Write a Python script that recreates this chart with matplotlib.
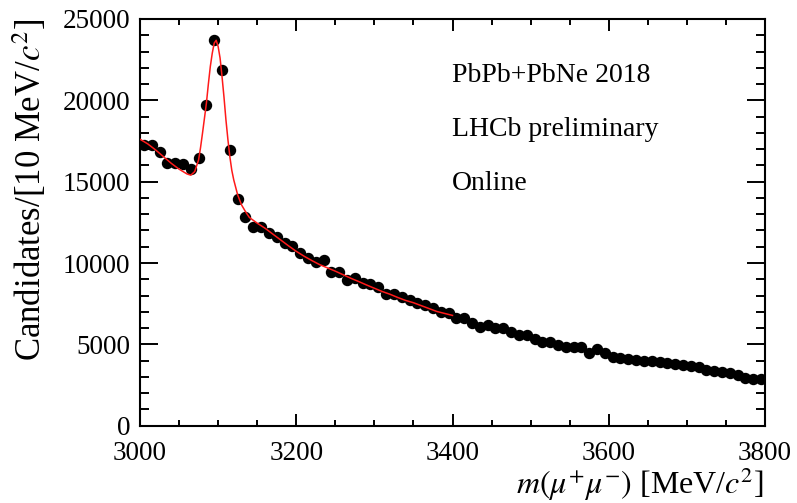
import matplotlib
matplotlib.use("Agg")
import matplotlib.pyplot as plt
import numpy as np
from matplotlib.ticker import MultipleLocator

plt.rcParams['font.family'] = ['Liberation Serif', 'DejaVu Serif']
plt.rcParams['mathtext.fontset'] = 'stix'

# dimuon mass spectrum, 10 MeV bins (bin centres)
mass = np.arange(3005, 3800, 10)
counts = [17260, 17260, 16810, 16140, 16140, 16080, 15770, 16440, 19700, 23720,
          21870, 16930, 13920, 12850, 12240, 12240, 11830, 11620, 11210, 11050,
          10600, 10290, 10090, 10190, 9470, 9470, 8960, 9060, 8800, 8710,
          8550, 8100, 8100, 7900, 7730, 7530, 7420, 7220, 6970, 6910,
          6600, 6600, 6340, 6080, 6190, 5990, 5990, 5780, 5580, 5580,
          5310, 5170, 5170, 4960, 4860, 4860, 4860, 4490, 4700, 4450,
          4250, 4180, 4120, 4060, 4000, 3970, 3900, 3850, 3780, 3720,
          3660, 3600, 3450, 3370, 3300, 3220, 3130, 2950, 2850, 2850]

# fit result (signal + background), 3000-3400 MeV
fit_mass = [3000, 3010, 3020, 3030, 3040, 3050, 3060, 3065, 3070, 3075,
            3077.5, 3080, 3082.5, 3085, 3087.5, 3090, 3092.5, 3095, 3097.5, 3100,
            3102.5, 3105, 3107.5, 3110, 3112.5, 3115, 3117.5, 3120, 3125, 3130,
            3135, 3140, 3150, 3160, 3170, 3180, 3190, 3200, 3210, 3220,
            3230, 3240, 3250, 3260, 3270, 3280, 3290, 3300, 3310, 3320,
            3330, 3340, 3350, 3360, 3370, 3380, 3390, 3400]
fit_vals = [17610, 17320, 16950, 16540, 16130, 15770, 15480, 15400, 15620, 16340,
            17100, 17980, 18900, 19830, 21000, 22080, 22900, 23520, 23690, 23310,
            22600, 21460, 20200, 18800, 17600, 16540, 15700, 15110, 14190, 13570,
            13160, 12800, 12450, 12140, 11780, 11420, 11060, 10720, 10420, 10150,
            9900, 9700, 9500, 9280, 9060, 8860, 8650, 8450, 8250, 8080,
            7880, 7700, 7560, 7380, 7200, 7020, 6900, 6780]

xlim = (3000, 3800)
ylim = (0, 25000)
labels = ["PbPb+PbNe 2018", "LHCb preliminary", "Online"]

fig = plt.figure(figsize=(7.97, 5.03), dpi=100)
ax = fig.add_axes([140/797, 1-425.7/503, 625/797, (425.7-19)/503])

ax.plot(mass, counts, 'o', color='black', markersize=7.2, zorder=2)
ax.plot(fit_mass, fit_vals, '-', color='#ff1a1a', lw=1.1, zorder=3)

ax.set_xlim(*xlim)
ax.set_ylim(*ylim)
ax.xaxis.set_major_locator(MultipleLocator(200))
ax.xaxis.set_minor_locator(MultipleLocator(50))
ax.yaxis.set_major_locator(MultipleLocator(5000))
ax.yaxis.set_minor_locator(MultipleLocator(1000))
ax.tick_params(which='both', direction='in', top=True, right=True, width=1.4, labelsize=19.5)
ax.tick_params(axis='x', which='major', length=8.5, pad=11)
ax.tick_params(axis='x', which='minor', length=4.3)
ax.tick_params(axis='y', which='major', length=13, pad=7)
ax.tick_params(axis='y', which='minor', length=6.5)
for s in ax.spines.values():
    s.set_linewidth(1.5)

for i, t in enumerate(labels):
    fig.text(452/797, 1-(75+54*i)/503, t, fontsize=20, ha='left', va='center')

fig.text(30/797, 1-18/503, r"Candidates/[10 MeV/$c^2$]", rotation=90,
         fontsize=25, ha='center', va='top')
fig.text(764/797, 1-494/503, r"$m(\mu^{+}\mu^{-})$ [MeV/$c^2$]",
         fontsize=23, ha='right', va='baseline')

fig.savefig("out.png", dpi=100)
